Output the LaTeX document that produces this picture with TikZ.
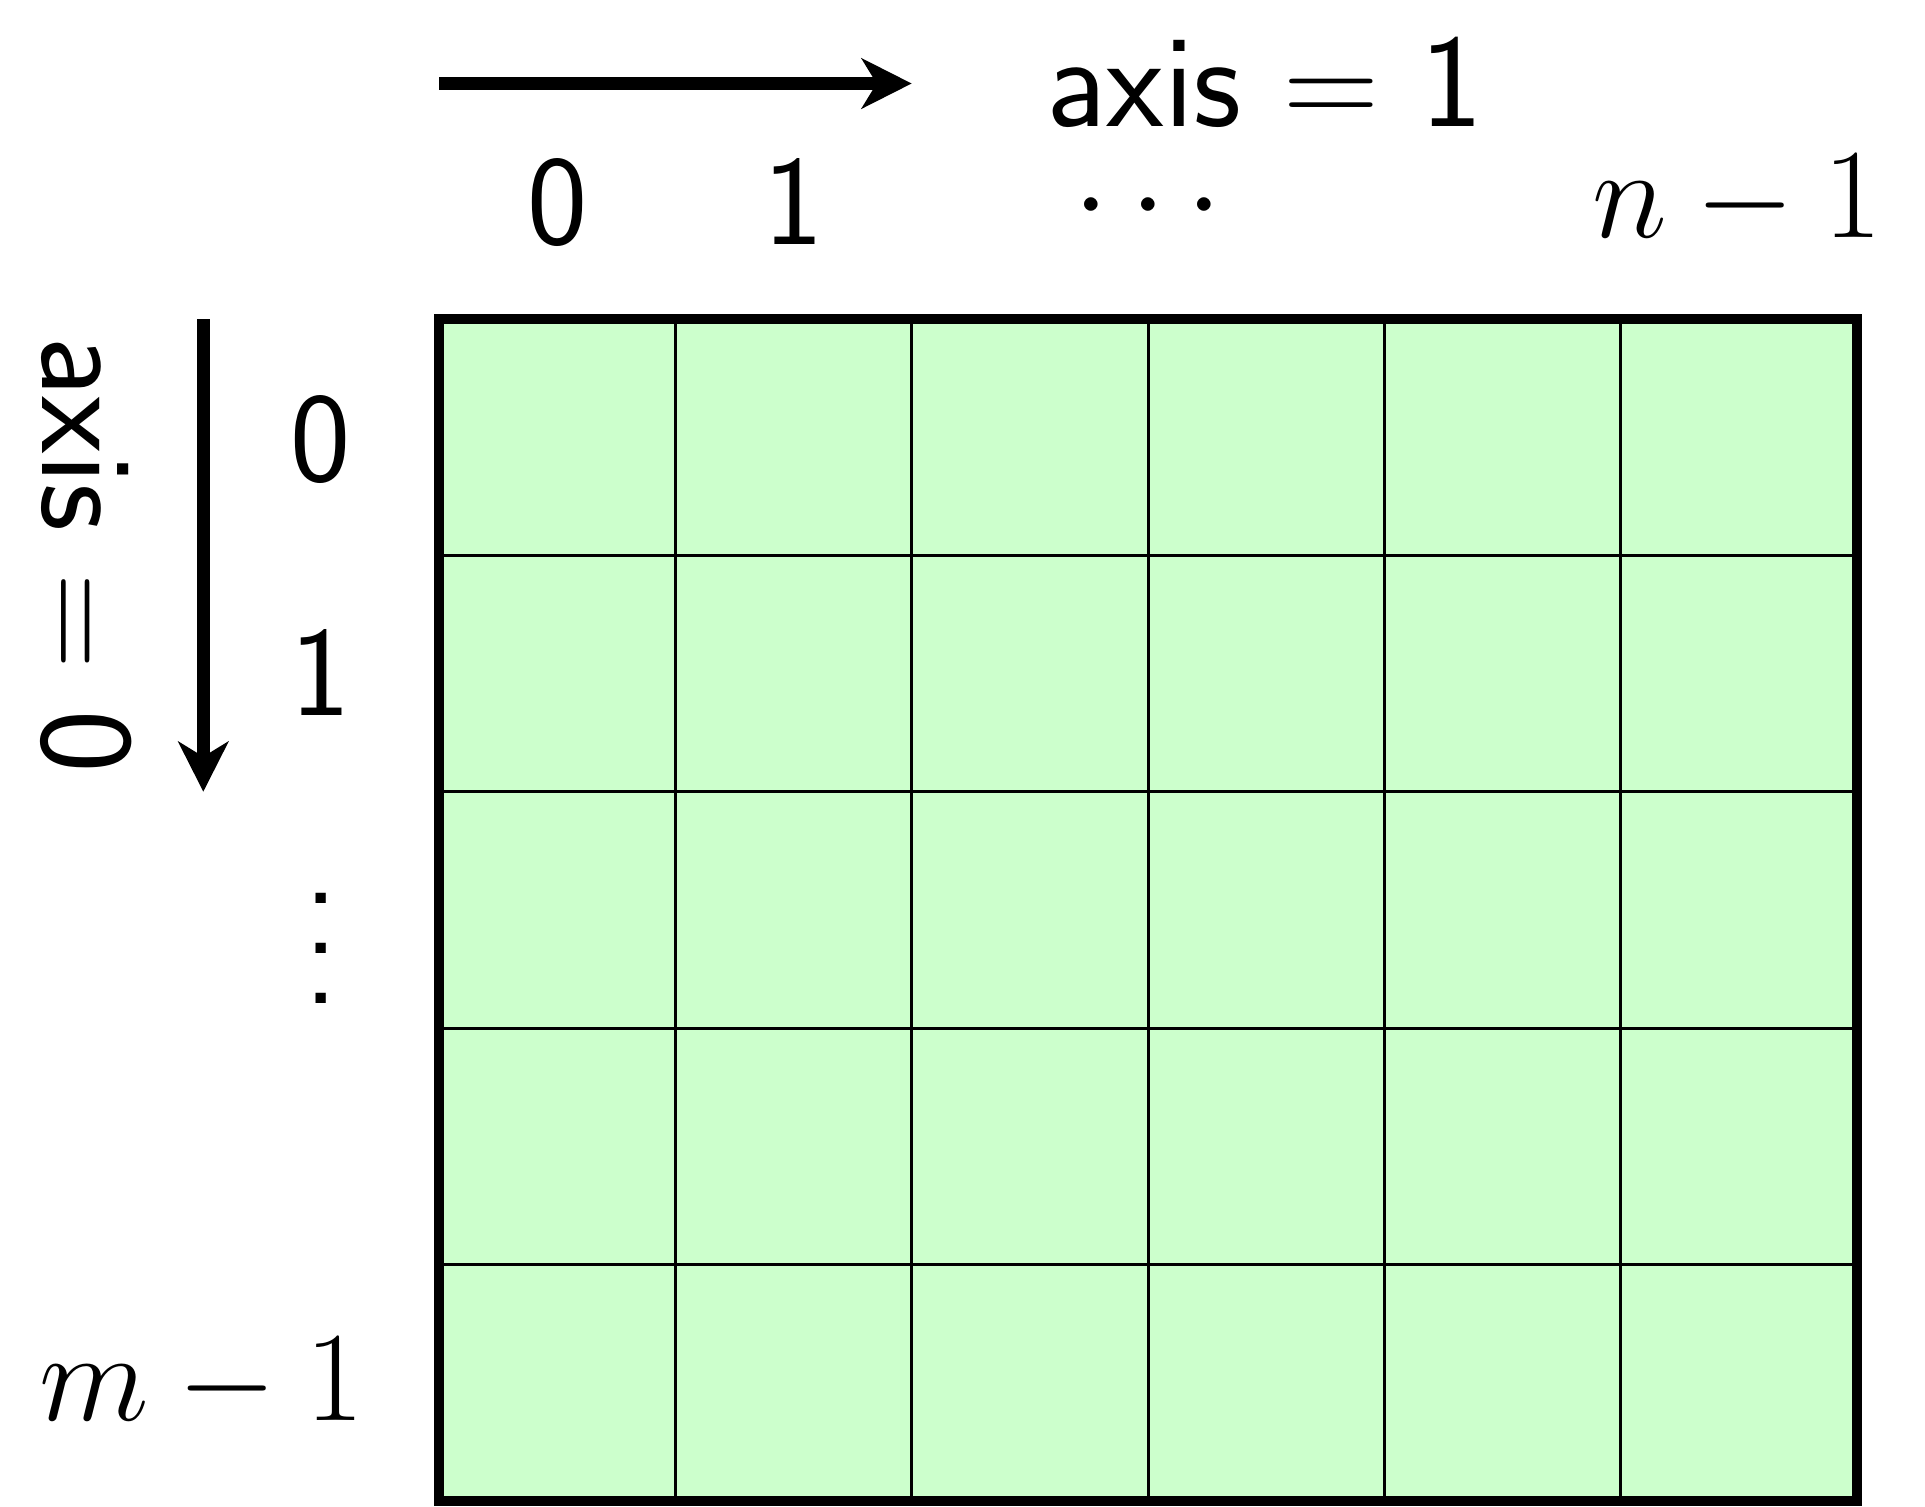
\RequirePackage{fix-cm}
\documentclass[tikz,border=0pt]{standalone}
\usetikzlibrary{arrows.meta}
\definecolor{cellgreen}{RGB}{204,255,204}
\begin{document}
\begin{tikzpicture}[x=0.5pt,y=-0.5pt,
  lbl/.style={inner sep=0pt, font=\fontsize{64}{77}\selectfont},
  axlbl/.style={inner sep=0pt, font=\fontsize{66.5}{80}\selectfont\sffamily},
  arr/.style={line width=6.35pt, -{Stealth[length=25pt,width=25pt,inset=7.5pt]}},
  gridline/.style={line width=1.5pt},
  border/.style={line width=5pt},
]
\useasboundingbox (0,0) rectangle (1925,1506);
\def\cs{236.35}
% grid
\fill[cellgreen] (439,319) rectangle (1857,1501);
\foreach \i in {1,...,5} \draw[gridline] ({439+\i*\cs},319) -- ({439+\i*\cs},1501);
\foreach \j in {1,...,4} \draw[gridline] (439,{319+\j*\cs}) -- (1857,{319+\j*\cs});
\draw[border] (439,319) rectangle (1857,1501);
% arrows
\coordinate (h0) at (439.3,83.5);
\coordinate (h1) at (911.7,83.5);
\draw[arr] (h0) -- (h1);
\coordinate (v0) at (203.3,319.3);
\coordinate (v1) at (203.3,791.7);
\draw[arr] (v0) -- (v1);
% axis labels
\node[axlbl, anchor=base] (ax1) at (1265,126.7) {axis $=$ 1};
\node[axlbl, anchor=base, rotate=-90] (ax0) at (42,555) {axis $=$ 0};
% column labels
\node[lbl, anchor=base] (c0) at (558,244) {\sffamily 0};
\node[lbl, anchor=base] (c1) at (794,244) {\sffamily 1};
\node[lbl, anchor=base] (cd) at (1148,236) {$\cdots$};
\node[lbl, anchor=base] (cn) at (1737,237) {$n-1$};
% row labels
\node[lbl, anchor=base] (r0) at (321,481) {\sffamily 0};
\node[lbl, anchor=base] (r1) at (321,715) {\sffamily 1};
\node[lbl, anchor=base] (rd) at (321,1003.3) {\sffamily\vbox{\baselineskip=25pt\lineskiplimit=-100pt\hbox{.}\hbox{.}\hbox{.}}};
\node[lbl, anchor=base east] (rm) at (365,1420) {$m-1$};
\end{tikzpicture}
\end{document}
